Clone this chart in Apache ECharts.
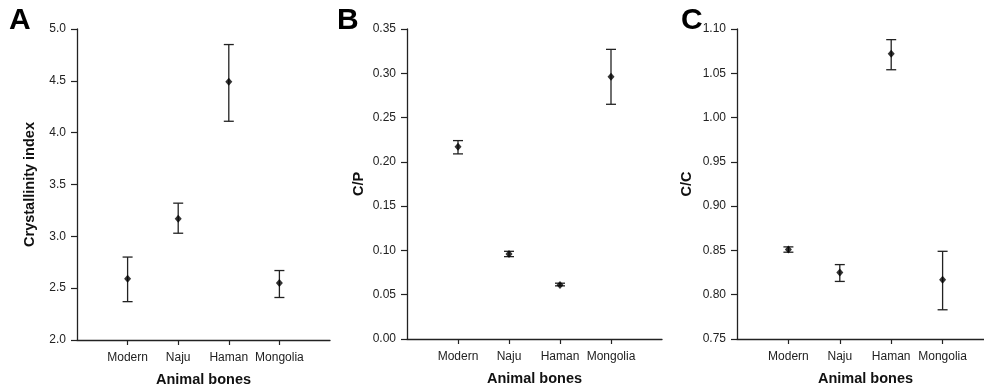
<!DOCTYPE html>
<html>
<head>
<meta charset="utf-8">
<script src="https://cdn.jsdelivr.net/npm/echarts@6/dist/echarts.min.js"></script>
<style>
html,body{margin:0;padding:0;background:#fff;}
#chart{width:984px;height:388px;}
</style>
</head>
<body>
<div id="chart"></div>
<script>
// ---- data ----
const categories = ['Modern', 'Naju', 'Haman', 'Mongolia'];

const ciMean = [2.59, 3.17, 4.49, 2.55];
const ciLow  = [2.37, 3.03, 4.11, 2.41];
const ciHigh = [2.80, 3.32, 4.85, 2.67];

const cpMean = [0.217, 0.096, 0.061, 0.296];
const cpLow  = [0.209, 0.093, 0.060, 0.265];
const cpHigh = [0.224, 0.099, 0.063, 0.327];

const ccMean = [0.851, 0.825, 1.072, 0.817];
const ccLow  = [0.848, 0.815, 1.054, 0.783];
const ccHigh = [0.854, 0.834, 1.088, 0.849];

const panelLetters = ['A', 'B', 'C'];
const yNames = ['Crystallinity index', 'C/P', 'C/C'];
const xName = 'Animal bones';
const yMin = [2.0, 0.00, 0.75];
const yMax = [5.0, 0.35, 1.10];
const yStep = [0.5, 0.05, 0.05];
const yDecimals = [1, 2, 2];

// ---- chart ----
const FONT = 'Liberation Sans, Arial, sans-serif';
const xCats = [''].concat(categories).concat([' ']);
const means = [ciMean, cpMean, ccMean];
const lows = [ciLow, cpLow, ccLow];
const highs = [ciHigh, cpHigh, ccHigh];

const grids = [
  {left: 77, top: 29, width: 253, height: 311, outerBoundsMode: 'none', containLabel: false},
  {left: 407, top: 29, width: 255, height: 310, outerBoundsMode: 'none', containLabel: false},
  {left: 737, top: 29, width: 257, height: 310, outerBoundsMode: 'none', containLabel: false}
];
const yNameGaps = [40, 41, 43];

const xAxes = [], yAxes = [], series = [];
for (let p = 0; p < 3; p++) {
  xAxes.push({
    type: 'category', gridIndex: p, data: xCats, boundaryGap: false,
    name: xName, nameLocation: 'middle', nameGap: 32,
    nameTextStyle: {fontFamily: FONT, fontSize: 14.5, fontWeight: 'bold', color: '#111'},
    axisLine: {lineStyle: {color: '#222', width: 1.3}},
    axisTick: {length: 5, lineStyle: {color: '#222', width: 1.2},
      interval: (i, v) => v.trim() !== ''},
    axisLabel: {fontFamily: FONT, fontSize: 12, color: '#222', margin: 12,
      interval: (i, v) => v.trim() !== ''},
    splitLine: {show: false}
  });
  yAxes.push({
    type: 'value', gridIndex: p, min: yMin[p], max: yMax[p], interval: yStep[p],
    name: yNames[p], nameLocation: 'middle', nameGap: yNameGaps[p], nameRotate: 90,
    nameTextStyle: {fontFamily: FONT, fontSize: 14.5, fontWeight: 'bold', color: '#111'},
    axisLine: {show: true, lineStyle: {color: '#222', width: 1.3}},
    axisTick: {show: true, length: 6, lineStyle: {color: '#222', width: 1.2}},
    axisLabel: {fontFamily: FONT, fontSize: 12, color: '#222', margin: 11,
      formatter: v => Number(v).toFixed(yDecimals[p])},
    splitLine: {show: false}
  });
  series.push({
    type: 'custom', xAxisIndex: p, yAxisIndex: p,
    data: categories.map((c, i) => [c, lows[p][i], highs[p][i]]),
    encode: {x: 0, y: [1, 2]},
    renderItem: function (params, api) {
      const x = api.value(0);
      const lo = api.coord([x, api.value(1)]);
      const hi = api.coord([x, api.value(2)]);
      const hw = 5;
      const st = {stroke: '#222', lineWidth: 1.3};
      return {type: 'group', children: [
        {type: 'line', shape: {x1: lo[0], y1: lo[1], x2: hi[0], y2: hi[1]}, style: st},
        {type: 'line', shape: {x1: lo[0] - hw, y1: lo[1], x2: lo[0] + hw, y2: lo[1]}, style: st},
        {type: 'line', shape: {x1: hi[0] - hw, y1: hi[1], x2: hi[0] + hw, y2: hi[1]}, style: st}
      ]};
    },
    z: 2, silent: true
  });
  series.push({
    type: 'scatter', xAxisIndex: p, yAxisIndex: p,
    data: categories.map((c, i) => [c, means[p][i]]),
    symbol: 'diamond', symbolSize: [7, 8],
    itemStyle: {color: '#000'}, z: 3, silent: true
  });
}

const letterPos = [{left: 9, top: 6}, {left: 337, top: 6}, {left: 681, top: 6}];
const graphic = panelLetters.map((t, i) => ({
  type: 'text', left: letterPos[i].left, top: letterPos[i].top, z: -1,
  style: {text: t, font: 'bold 30px ' + FONT, fill: '#000'}
}));

const chart = echarts.init(document.getElementById('chart'), null, {renderer: 'canvas'});
chart.setOption({
  animation: false,
  backgroundColor: '#fff',
  grid: grids,
  xAxis: xAxes,
  yAxis: yAxes,
  series: series,
  graphic: graphic
});
</script>
</body>
</html>
